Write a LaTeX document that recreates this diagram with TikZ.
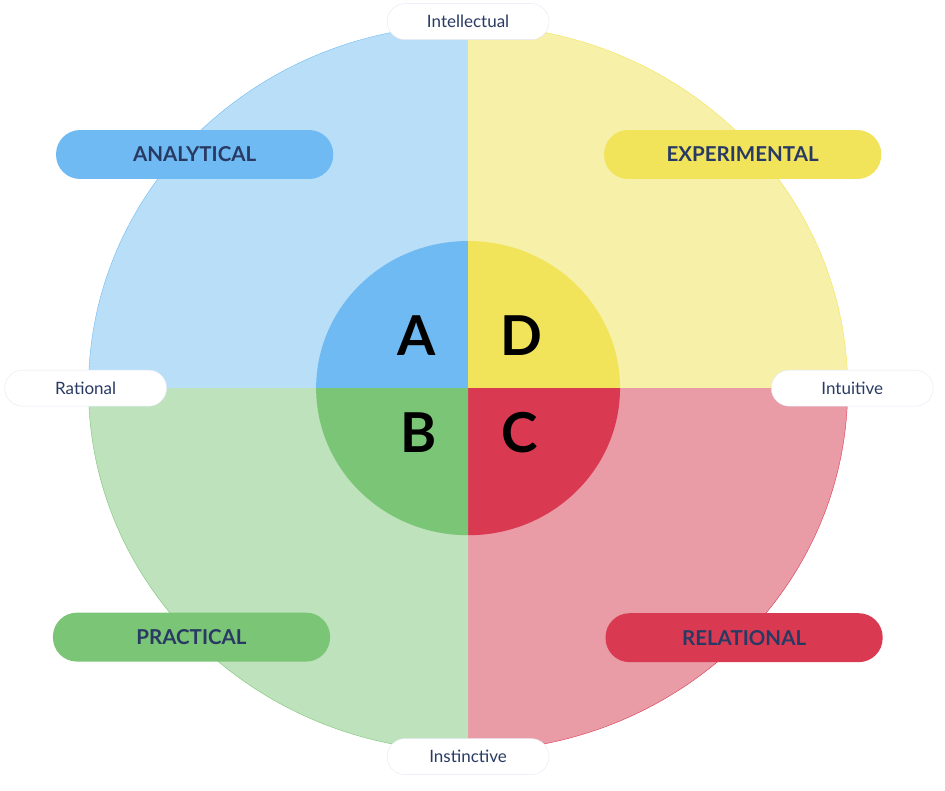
\documentclass[tikz,border=0pt]{standalone}
\usepackage{fontspec}
\setmainfont{Lato}
\usepackage{tikz}
\usetikzlibrary{positioning}
\definecolor{navy}{HTML}{283A63}
\definecolor{anaLight}{HTML}{B9DEF8}
\definecolor{anaDark}{HTML}{6FBAF3}
\definecolor{expLight}{HTML}{F7F0A8}
\definecolor{expDark}{HTML}{F2E45A}
\definecolor{praLight}{HTML}{BDE2BC}
\definecolor{praDark}{HTML}{7BC576}
\definecolor{relLight}{HTML}{E99BA6}
\definecolor{relDark}{HTML}{D93A52}
\definecolor{rim}{HTML}{E4E8F2}

\begin{document}
\begin{tikzpicture}[
  axis/.style={draw=rim,fill=white,rounded corners=18pt,minimum width=5.69cm,
    minimum height=1.27cm,inner sep=0pt,text=navy,
    font=\fontsize{17}{20}\selectfont},
  quadlabel/.style={rounded corners=24pt,minimum width=9.74cm,minimum height=1.72cm,
    inner sep=0pt,text=navy,font=\fontsize{20.5}{24}\selectfont\bfseries},
  letter/.style={inner sep=0pt,font=\fontsize{55}{60}\selectfont\bfseries}
]
  \useasboundingbox (-16.45,-14.13) rectangle (16.76,13.64);

  \fill[anaLight] (0,0) -- (-13.34,0) arc[start angle=180,end angle=90,x radius=13.34,y radius=12.76] -- cycle;
  \fill[expLight] (0,0) -- (0,12.76) arc[start angle=90,end angle=0,x radius=13.34,y radius=12.76] -- cycle;
  \fill[relLight] (0,0) -- (13.34,0) arc[start angle=0,end angle=-90,x radius=13.34,y radius=12.76] -- cycle;
  \fill[praLight] (0,0) -- (0,-12.76) arc[start angle=-90,end angle=-180,x radius=13.34,y radius=12.76] -- cycle;
  \draw[anaDark,thin] (-13.34,0) arc[start angle=180,end angle=90,x radius=13.34,y radius=12.76];
  \draw[expDark,thin] (0,12.76) arc[start angle=90,end angle=0,x radius=13.34,y radius=12.76];
  \draw[relDark,thin] (13.34,0) arc[start angle=0,end angle=-90,x radius=13.34,y radius=12.76];
  \draw[praDark,thin] (0,-12.76) arc[start angle=-90,end angle=-180,x radius=13.34,y radius=12.76];

  \fill[anaDark] (0,0) -- (-5.34,0) arc[start angle=180,end angle=90,x radius=5.34,y radius=5.17] -- cycle;
  \fill[expDark] (0,0) -- (0,5.17) arc[start angle=90,end angle=0,x radius=5.34,y radius=5.17] -- cycle;
  \fill[relDark] (0,0) -- (5.34,0) arc[start angle=0,end angle=-90,x radius=5.34,y radius=5.17] -- cycle;
  \fill[praDark] (0,0) -- (0,-5.17) arc[start angle=-90,end angle=-180,x radius=5.34,y radius=5.17] -- cycle;

  \node[letter] (a) at (-1.81,1.85) {A};
  \node[letter] (d) at (1.86,1.85) {D};
  \node[letter] (b) at (-1.74,-1.56) {B};
  \node[letter] (c) at (1.83,-1.55) {C};

  \node[quadlabel,fill=anaDark] (analytical) at (-9.61,8.21) {ANALYTICAL};
  \node[quadlabel,fill=expDark] (experimental) at (9.65,8.21) {EXPERIMENTAL};
  \node[quadlabel,fill=praDark] (practical) at (-9.72,-8.75) {PRACTICAL};
  \node[quadlabel,fill=relDark] (relational) at (9.70,-8.77) {RELATIONAL};

  \node[axis] (intellectual) at (0,12.88) {Intellectual};
  \node[axis] (instinctive) at (0,-12.95) {Instinctive};
  \node[axis] (rational) at (-13.44,0) {Rational};
  \node[axis] (intuitive) at (13.50,0) {Intuitive};
\end{tikzpicture}
\end{document}
